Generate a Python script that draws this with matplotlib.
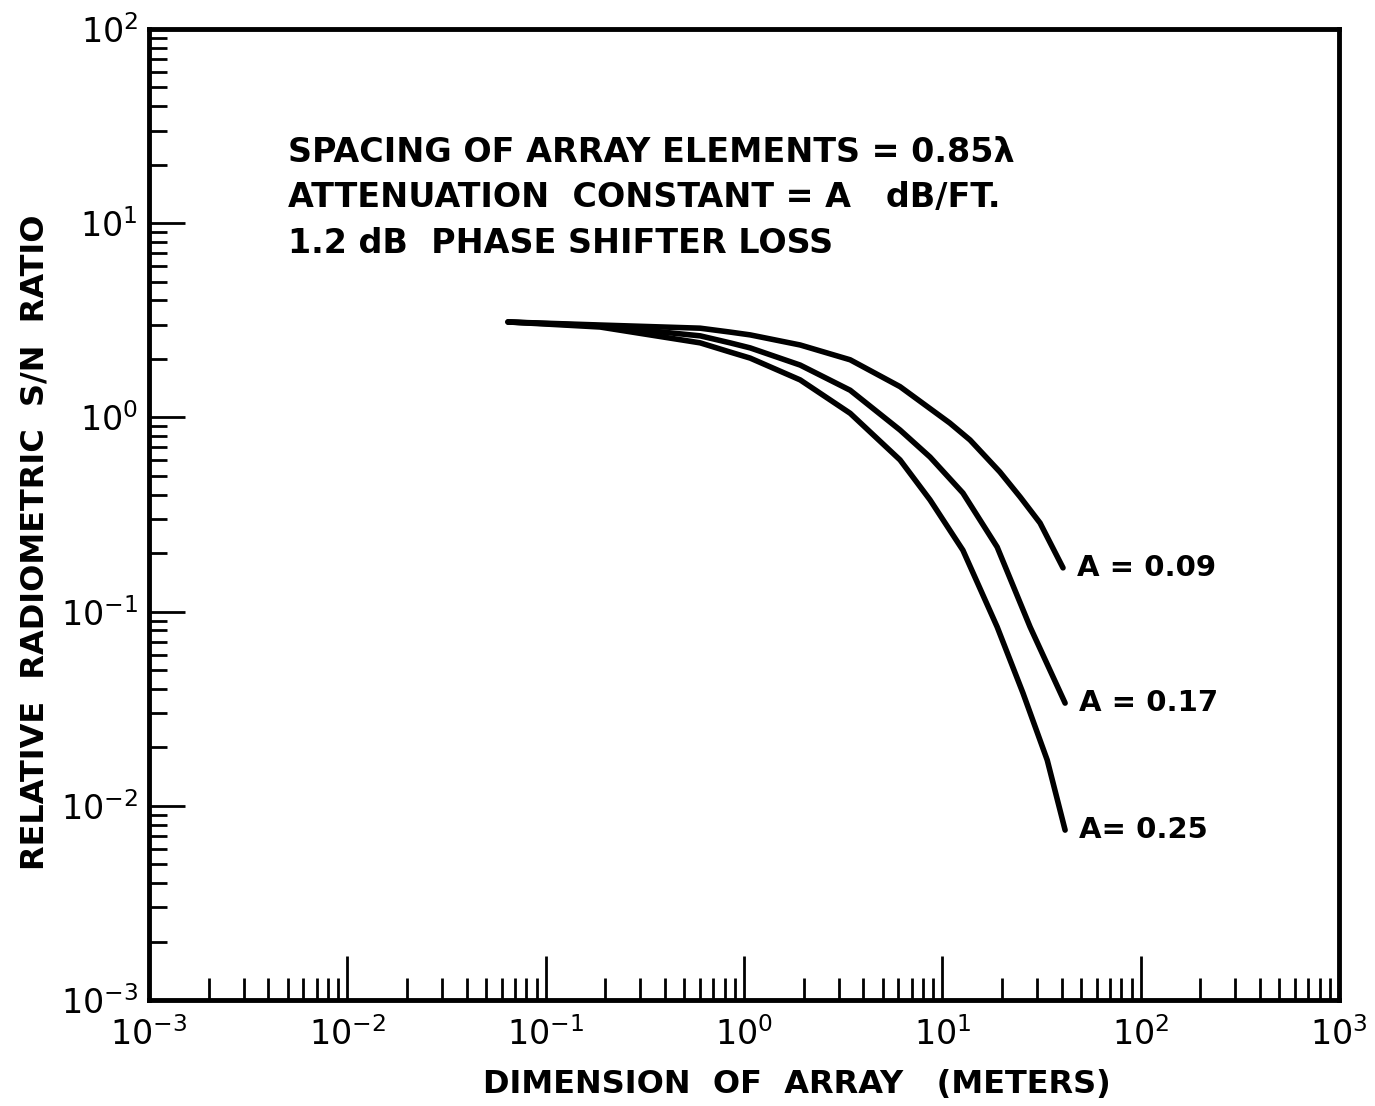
import numpy as np
import matplotlib
matplotlib.use("Agg")
import matplotlib.pyplot as plt
from matplotlib.ticker import LogLocator, LogFormatterMathtext, NullFormatter

# values (x in meters, y relative S/N)
x_a09 = [0.0646, 0.188, 0.601, 0.851, 1.074, 1.919, 3.43, 6.12, 10.9, 13.8, 19.5, 24.7, 31.1, 40.6]
y_a09 = [3.10, 2.99, 2.88, 2.75, 2.66, 2.36, 1.98, 1.44, 0.936, 0.765, 0.524, 0.389, 0.286, 0.168]

x_a17 = [0.0646, 0.188, 0.601, 0.851, 1.074, 1.919, 3.43, 6.12, 8.67, 12.7, 18.9, 27.7, 41.6]
y_a17 = [3.10, 2.96, 2.63, 2.42, 2.28, 1.86, 1.38, 0.861, 0.625, 0.408, 0.215, 0.0834, 0.0338]

x_a25 = [0.0646, 0.188, 0.601, 0.851, 1.074, 1.919, 3.43, 6.12, 8.67, 12.7, 18.9, 25.5, 33.8, 41.6]
y_a25 = [3.10, 2.92, 2.42, 2.17, 2.02, 1.56, 1.05, 0.604, 0.376, 0.207, 0.0834, 0.0381, 0.0172, 0.0075]

curve_labels = ['A = 0.09', 'A = 0.17', 'A= 0.25']
notes = ['SPACING OF ARRAY ELEMENTS = 0.85\u03bb',
         'ATTENUATION  CONSTANT = A   dB/FT.',
         '1.2 dB  PHASE SHIFTER LOSS']

fig = plt.figure(figsize=(13.75, 11.06), dpi=100)
ax = fig.add_axes([0.1084, 0.0958, 0.8654, 0.878])

for xs, ys, lab in zip([x_a09, x_a17, x_a25], [y_a09, y_a17, y_a25], curve_labels):
    ax.plot(xs, ys, color='black', lw=4.0, solid_capstyle='round', solid_joinstyle='round')
    ax.text(xs[-1] * 1.18, ys[-1], lab, fontsize=21, fontweight='bold',
            ha='left', va='center')

ax.set_xscale('log')
ax.set_yscale('log')
ax.set_xlim(1e-3, 1e3)
ax.set_ylim(1e-3, 1e2)

for axis in (ax.xaxis, ax.yaxis):
    axis.set_major_locator(LogLocator(base=10, numticks=20))
    axis.set_minor_locator(LogLocator(base=10, subs=np.arange(2, 10), numticks=20))
    axis.set_major_formatter(LogFormatterMathtext())
    axis.set_minor_formatter(NullFormatter())

ax.tick_params(axis='x', which='major', direction='in', length=32, width=2, labelsize=24, pad=12)
ax.tick_params(axis='x', which='minor', direction='in', length=16, width=2)
ax.tick_params(axis='y', which='major', direction='in', length=26, width=2, labelsize=24, pad=8)
ax.tick_params(axis='y', which='minor', direction='in', length=13, width=2)

for sp in ax.spines.values():
    sp.set_linewidth(3.5)

fig.text(797 / 1375, 1 - 1085 / 1106, 'DIMENSION  OF  ARRAY   (METERS)', fontsize=23,
         fontweight='bold', ha='center', va='center')
fig.text(35 / 1375, 1 - 542 / 1106, 'RELATIVE  RADIOMETRIC  S/N  RATIO', fontsize=23,
         fontweight='bold', ha='center', va='center', rotation=90)

for i, line in enumerate(notes):
    fig.text(288 / 1375, 1 - (152 + 46 * i) / 1106, line, fontsize=24,
             fontweight='bold', ha='left', va='center')

plt.savefig('out.png', dpi=100)
